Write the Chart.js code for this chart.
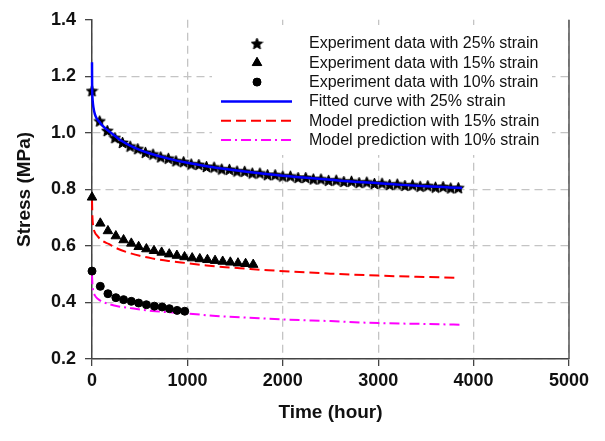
<!DOCTYPE html>
<html>
<head>
<meta charset="utf-8">
<script src="https://cdn.jsdelivr.net/npm/chart.js@4.4.0/dist/chart.umd.min.js"></script>
<style>
  html, body { margin: 0; padding: 0; background: #fff; }
  #wrap { width: 605px; height: 441px; }
</style>
</head>
<body>
<div id="wrap"><canvas id="stressChart" width="605" height="441"></canvas></div>
<script>
// Experiment data, 25% strain
var starTime = [0, 80, 160, 240, 320, 400, 480, 560, 640, 720, 800, 880, 960, 1040, 1120, 1200, 1280, 1360, 1440, 1520,
    1600, 1680, 1760, 1840, 1920, 2000, 2080, 2160, 2240, 2320, 2400, 2480, 2560, 2640, 2720, 2800, 2880, 2960, 3040, 3120,
    3200, 3280, 3360, 3440, 3520, 3600, 3680, 3760, 3840];
var starStress = [1.149, 1.042, 1.008, 0.983, 0.966, 0.953, 0.944, 0.931, 0.925, 0.915, 0.910, 0.901, 0.898, 0.890, 0.888, 0.881, 0.879, 0.872, 0.871, 0.865,
    0.864, 0.858, 0.858, 0.852, 0.852, 0.847, 0.847, 0.842, 0.842, 0.837, 0.837, 0.832, 0.833, 0.828, 0.829, 0.824, 0.826, 0.821, 0.822, 0.817,
    0.819, 0.814, 0.816, 0.811, 0.813, 0.808, 0.810, 0.805, 0.806];

// Fitted curve, 25% strain
var fitTime = [0, 1, 3, 8, 15, 30, 50, 80, 120, 200, 300, 400, 500, 600, 800, 1000, 1200, 1400, 1600, 1800, 2000, 2250, 2500, 2750, 3000, 3250, 3500, 3750, 3880];
var fitStress = [1.25, 1.18, 1.14, 1.11, 1.09, 1.066, 1.05, 1.038, 1.022, 1.000, 0.974, 0.955, 0.940, 0.928, 0.909, 0.894, 0.882, 0.872, 0.863, 0.855, 0.848, 0.841, 0.834, 0.827, 0.822, 0.816, 0.811, 0.807, 0.805];

// Experiment data, 15% strain
var triTime = [0, 87, 167, 250, 331, 412, 489, 570, 650, 730, 810, 890, 970, 1050, 1130, 1210, 1290, 1370, 1450, 1530, 1610, 1690];
var triStress = [0.772, 0.680, 0.653, 0.635, 0.621, 0.609, 0.597, 0.589, 0.583, 0.577, 0.571, 0.566, 0.561, 0.557, 0.554, 0.551, 0.548, 0.545, 0.542, 0.539, 0.537, 0.534];

// Model prediction, 15% strain
var model15Time = [0, 5, 15, 30, 52, 100, 175, 270, 385, 500, 630, 800, 1000, 1200, 1400, 1600, 1850, 2100, 2500, 3000, 3400, 3850];
var model15Stress = [0.762, 0.700, 0.665, 0.648, 0.637, 0.620, 0.607, 0.590, 0.576, 0.565, 0.556, 0.547, 0.539, 0.531, 0.525, 0.520, 0.514, 0.509, 0.502, 0.495, 0.491, 0.487];

// Experiment data, 10% strain
var circTime = [0, 87, 167, 250, 331, 412, 489, 570, 654, 735, 811, 892, 972];
var circStress = [0.511, 0.457, 0.431, 0.417, 0.410, 0.404, 0.398, 0.392, 0.387, 0.384, 0.378, 0.372, 0.369];

// Model prediction, 10% strain
var model10Time = [0, 5, 15, 30, 60, 100, 180, 280, 400, 630, 1000, 1300, 1600, 2000, 2500, 3000, 3500, 3880];
var model10Stress = [0.500, 0.460, 0.438, 0.425, 0.413, 0.404, 0.394, 0.386, 0.380, 0.370, 0.361, 0.352, 0.347, 0.340, 0.334, 0.327, 0.324, 0.321];

var xTicks = [0, 1000, 2000, 3000, 4000, 5000];
var yTicks = [0.2, 0.4, 0.6, 0.8, 1.0, 1.2, 1.4];

function pts(xs, ys) {
    return xs.map(function (x, i) { return { x: x, y: ys[i] }; });
}

// filled five point star used as point style
function makeStar(size) {
    var c = document.createElement('canvas');
    c.width = size; c.height = size;
    var g = c.getContext('2d');
    var cx = size / 2, cy = size / 2 + 0.6, ro = size / 2 - 0.5, ri = ro * 0.45;
    g.beginPath();
    for (var i = 0; i < 10; i++) {
        var r = i % 2 === 0 ? ro : ri;
        var a = -Math.PI / 2 + i * Math.PI / 5;
        g.lineTo(cx + r * Math.cos(a), cy + r * Math.sin(a));
    }
    g.closePath();
    g.fillStyle = '#000';
    g.fill();
    g.lineWidth = 1;
    g.strokeStyle = '#000';
    g.stroke();
    return c;
}
var starImg = makeStar(13);

var font = "'Liberation Sans', Arial, sans-serif";

// legend drawn inside the plot area, like the original figure
var insideLegend = {
    id: 'insideLegend',
    afterDraw: function (chart) {
        var ctx = chart.ctx;
        ctx.save();
        ctx.fillStyle = '#fff';
        ctx.fillRect(212, 25, 340, 130);
        var order = [0, 2, 4, 1, 3, 5];
        var rowY = 43.5;
        order.forEach(function (idx, row) {
            var ds = chart.data.datasets[idx];
            var y = rowY + row * 19.3;
            if (ds.showLine) {
                ctx.strokeStyle = ds.borderColor;
                ctx.lineWidth = ds.borderWidth;
                ctx.setLineDash(ds.borderDash || []);
                ctx.beginPath();
                ctx.moveTo(221, y);
                ctx.lineTo(292, y);
                ctx.stroke();
                ctx.setLineDash([]);
            } else {
                ctx.fillStyle = '#000';
                ctx.strokeStyle = '#000';
                ctx.lineWidth = 1;
                Chart.helpers.drawPoint(ctx, {
                    pointStyle: ds.pointStyle,
                    radius: ds.pointRadius,
                    borderWidth: 1
                }, 257, y);
                if (ds.pointStyle !== starImg) {
                    ctx.fill();
                }
            }
            ctx.fillStyle = '#111';
            ctx.font = '16px ' + font;
            ctx.textBaseline = 'middle';
            ctx.textAlign = 'left';
            ctx.fillText(ds.label, 309, y + 0.5);
        });
        ctx.restore();
    }
};

// right frame line
var rightFrame = {
    id: 'rightFrame',
    beforeDatasetsDraw: function (chart) {
        var a = chart.chartArea, ctx = chart.ctx;
        ctx.save();
        ctx.strokeStyle = '#555';
        ctx.lineWidth = 1.5;
        ctx.beginPath();
        ctx.moveTo(a.right, a.top);
        ctx.lineTo(a.right, a.bottom);
        ctx.stroke();
        ctx.restore();
    }
};

// no grid line along the top edge
function gridColor(c) {
    return c.tick && c.tick.value >= 1.4 ? 'rgba(0,0,0,0)' : '#c4c4c4';
}

var ctx = document.getElementById('stressChart').getContext('2d');
var stressChart = new Chart(ctx, {
    type: 'scatter',
    data: {
        datasets: [{
            label: 'Experiment data with 25% strain',
            data: pts(starTime, starStress),
            pointStyle: starImg,
            pointRadius: 6,
            backgroundColor: '#000',
            borderColor: '#000',
            order: 2
        },
        {
            label: 'Fitted curve with 25% strain',
            data: pts(fitTime, fitStress),
            showLine: true,
            borderColor: '#0000ff',
            borderWidth: 2.5,
            pointRadius: 0,
            cubicInterpolationMode: 'monotone',
            order: 1
        },
        {
            label: 'Experiment data with 15% strain',
            data: pts(triTime, triStress),
            pointStyle: 'triangle',
            pointRadius: 5.5,
            backgroundColor: '#000',
            borderColor: '#000',
            borderWidth: 1,
            order: 2
        },
        {
            label: 'Model prediction with 15% strain',
            data: pts(model15Time, model15Stress),
            showLine: true,
            borderColor: '#ff0000',
            borderWidth: 2,
            borderDash: [10, 5],
            pointRadius: 0,
            cubicInterpolationMode: 'monotone',
            order: 3
        },
        {
            label: 'Experiment data with 10% strain',
            data: pts(circTime, circStress),
            pointStyle: 'circle',
            pointRadius: 4,
            backgroundColor: '#000',
            borderColor: '#000',
            borderWidth: 1,
            order: 2
        },
        {
            label: 'Model prediction with 10% strain',
            data: pts(model10Time, model10Stress),
            showLine: true,
            borderColor: '#ff00ff',
            borderWidth: 2,
            borderDash: [10, 4, 2, 4],
            pointRadius: 0,
            cubicInterpolationMode: 'monotone',
            order: 3
        }]
    },
    options: {
        responsive: false,
        animation: false,
        clip: false,
        layout: { padding: { top: 19, right: 36, bottom: 0, left: 0 } },
        plugins: {
            legend: { display: false },
            tooltip: { enabled: false }
        },
        scales: {
            x: {
                type: 'linear',
                min: 0,
                max: 5000,
                afterBuildTicks: function (s) { s.ticks = xTicks.map(function (v) { return { value: v }; }); },
                afterFit: function (s) { s.height = 82; },
                ticks: {
                    color: '#111',
                    padding: 4,
                    font: { family: font, size: 18, weight: 'bold' },
                    maxRotation: 0,
                    callback: function (v) { return String(v); }
                },
                grid: { color: '#c4c4c4', lineWidth: 1.3, tickColor: '#444', tickLength: 7 },
                border: { color: '#444', width: 1.5, dash: [8, 5] },
                title: {
                    display: true,
                    text: 'Time (hour)',
                    color: '#111',
                    font: { family: font, size: 19, weight: 'bold' },
                    padding: { top: 0, bottom: 17 }
                }
            },
            y: {
                min: 0.2,
                max: 1.4,
                afterBuildTicks: function (s) { s.ticks = yTicks.map(function (v) { return { value: v }; }); },
                afterFit: function (s) { s.width = 92; },
                ticks: {
                    color: '#111',
                    padding: 9,
                    font: { family: font, size: 18, weight: 'bold' },
                    callback: function (v) { return v.toFixed(1); }
                },
                grid: { color: gridColor, lineWidth: 1.3, tickColor: '#444', tickLength: 7 },
                border: { color: '#444', width: 1.5, dash: [8, 5] },
                title: {
                    display: true,
                    text: 'Stress (MPa)',
                    color: '#111',
                    font: { family: font, size: 19, weight: 'bold' },
                    padding: { top: 13, bottom: 0 }
                }
            }
        }
    },
    plugins: [rightFrame, insideLegend]
});
</script>
</body>
</html>
